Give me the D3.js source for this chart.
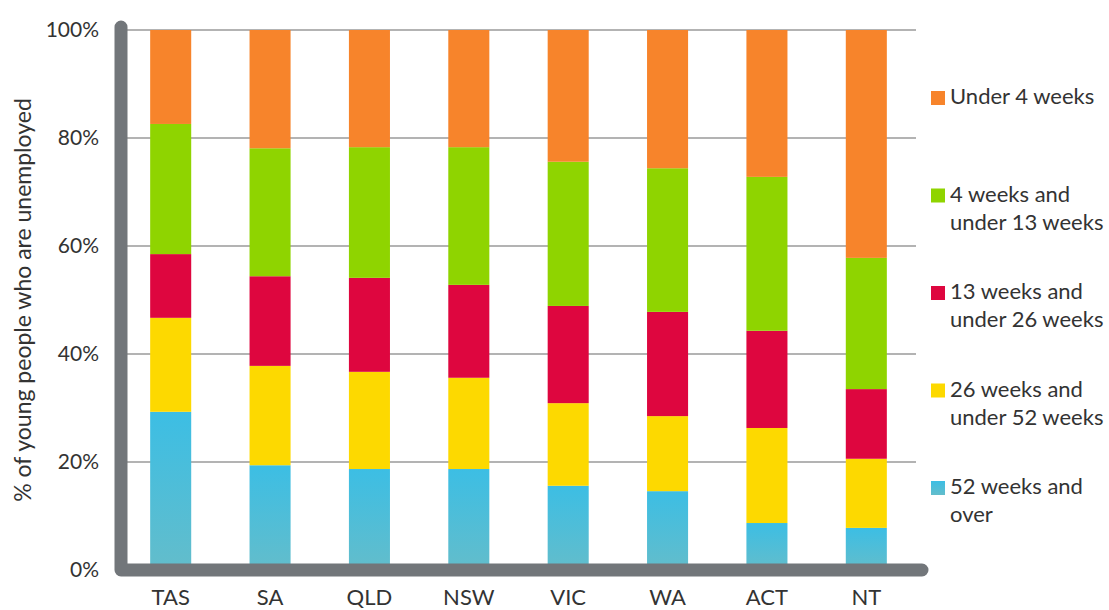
<!DOCTYPE html>
<meta charset="utf-8">
<title>Youth unemployment duration by state</title>
<script src="https://d3js.org/d3.v7.min.js"></script>
<style>
  body { margin: 0; background: #fff; }
  text { font-family: Lato, "Open Sans", sans-serif; fill: #333; }
</style>
<body>
<div id="my_dataviz"></div>
<script>

// categories and series (percent of unemployed young people, each state sums to 100)
var states = ["TAS", "SA", "QLD", "NSW", "VIC", "WA", "ACT", "NT"];
var over52 = [29.3, 19.4, 18.7, 18.7, 15.6, 14.6, 8.7, 7.8];
var wk26to52 = [17.4, 18.4, 18.0, 16.9, 15.3, 13.9, 17.6, 12.8];
var wk13to26 = [11.8, 16.6, 17.4, 17.2, 18.0, 19.3, 18.0, 12.9];
var wk4to13 = [24.1, 23.7, 24.2, 25.5, 26.7, 26.6, 28.5, 24.3];
var under4 = [17.4, 21.9, 21.7, 21.7, 24.4, 25.6, 27.2, 42.2];
var yTicks = [0, 20, 40, 60, 80, 100];

var seriesKeys = ["over52", "wk26to52", "wk13to26", "wk4to13", "under4"];
var seriesLabels = {
  under4: ["Under 4 weeks"],
  wk4to13: ["4 weeks and", "under 13 weeks"],
  wk13to26: ["13 weeks and", "under 26 weeks"],
  wk26to52: ["26 weeks and", "under 52 weeks"],
  over52: ["52 weeks and", "over"]
};
var colors = {
  under4: "#f7842b",
  wk4to13: "#8fd400",
  wk13to26: "#de063f",
  wk26to52: "#fdd900",
  over52: "url(#blueGrad)"
};

// build table for d3.stack
var data = states.map(function(s, i) {
  return { state: s, over52: over52[i], wk26to52: wk26to52[i], wk13to26: wk13to26[i],
           wk4to13: wk4to13[i], under4: under4[i] };
});

var margin = {top: 30, right: 193, bottom: 40, left: 121},
    width = 1109 - margin.left - margin.right,
    height = 610 - margin.top - margin.bottom;

var svgRoot = d3.select("#my_dataviz")
  .append("svg")
    .attr("width", 1109)
    .attr("height", 610);

// blue segments fade to a softer teal toward the bottom
var grad = svgRoot.append("defs").append("linearGradient")
    .attr("id", "blueGrad")
    .attr("x1", 0).attr("x2", 0).attr("y1", 0).attr("y2", 1);
grad.append("stop").attr("offset", "0%").attr("stop-color", "#3cbee4");
grad.append("stop").attr("offset", "100%").attr("stop-color", "#63bdcb");

var svg = svgRoot.append("g")
    .attr("transform", "translate(" + margin.left + "," + margin.top + ")");

var x = d3.scaleBand()
  .domain(states)
  .range([0, width])
  .paddingInner(0.587)
  .paddingOuter(0.2935);

var y = d3.scaleLinear()
  .domain([0, 100])
  .range([height, 0]);

// gridlines
svg.append("g")
  .selectAll("line")
  .data(yTicks.slice(1))
  .enter()
  .append("line")
    .attr("x1", 0)
    .attr("x2", width)
    .attr("y1", function(d) { return y(d); })
    .attr("y2", function(d) { return y(d); })
    .attr("stroke", "#9a9a9a")
    .attr("stroke-width", 1.6);

// stacked bars
var stacked = d3.stack().keys(seriesKeys)(data);

svg.append("g")
  .selectAll("g")
  .data(stacked)
  .enter()
  .append("g")
    .attr("fill", function(d) { return colors[d.key]; })
  .selectAll("rect")
  .data(function(d) { return d; })
  .enter()
  .append("rect")
    .attr("x", function(d) { return x(d.data.state); })
    .attr("y", function(d) { return y(d[1]); })
    .attr("height", function(d) { return y(d[0]) - y(d[1]); })
    .attr("width", x.bandwidth());

// thick rounded axes
svg.append("path")
  .attr("d", d3.line()([[0, -3], [0, height], [width + 6, height]]))
  .attr("fill", "none")
  .attr("stroke", "#72767a")
  .attr("stroke-width", 13)
  .attr("stroke-linecap", "round")
  .attr("stroke-linejoin", "round");

// y tick labels
svg.append("g")
  .selectAll("text")
  .data(yTicks)
  .enter()
  .append("text")
    .attr("x", -22)
    .attr("y", function(d) { return y(d); })
    .attr("dy", "0.35em")
    .attr("text-anchor", "end")
    .style("font-size", "21px")
    .text(function(d) { return d + "%"; });

// x labels
svg.append("g")
  .selectAll("text")
  .data(states)
  .enter()
  .append("text")
    .attr("x", function(d) { return x(d) + x.bandwidth() / 2; })
    .attr("y", height + 35)
    .attr("text-anchor", "middle")
    .style("font-size", "22px")
    .text(function(d) { return d; });

// y axis title
svgRoot.append("text")
  .attr("transform", "translate(31,300) rotate(-90)")
  .attr("text-anchor", "middle")
  .style("font-size", "23px")
  .text("% of young people who are unemployed");

// legend (top to bottom: under4 first)
var legendKeys = seriesKeys.slice().reverse();
var legend = svgRoot.append("g")
  .selectAll("g")
  .data(legendKeys)
  .enter()
  .append("g")
    .attr("transform", function(d, i) { return "translate(931," + (91 + i * 97.5) + ")"; });

legend.append("rect")
  .attr("width", 14)
  .attr("height", 14)
  .attr("fill", function(d) { return colors[d]; });

legend.append("text")
  .attr("x", 19)
  .attr("y", 13)
  .attr("dy", "0.35em")
  .style("font-size", "22px")
  .selectAll("tspan")
  .data(function(d) { return seriesLabels[d]; })
  .enter()
  .append("tspan")
    .attr("x", 19)
    .attr("dy", function(d, i) { return i === 0 ? 0 : 28; })
    .text(function(d) { return d; });

</script>
</body>
